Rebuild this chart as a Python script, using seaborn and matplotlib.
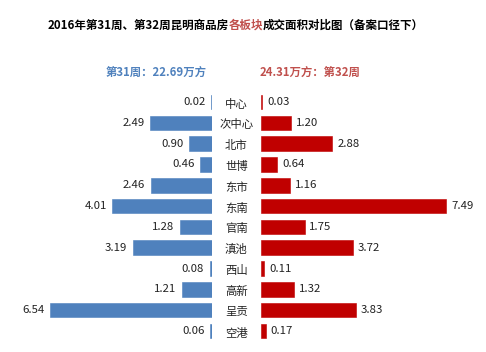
import matplotlib
matplotlib.use("Agg")
import matplotlib.pyplot as plt
import seaborn as sns
import pandas as pd

regions = ['中心', '次中心', '北市', '世博', '东市', '东南', '官南', '滇池', '西山', '高新', '呈贡', '空港']
week31 = [0.02, 2.49, 0.90, 0.46, 2.46, 4.01, 1.28, 3.19, 0.08, 1.21, 6.54, 0.06]
week32 = [0.03, 1.20, 2.88, 0.64, 1.16, 7.49, 1.75, 3.72, 0.11, 1.32, 3.83, 0.17]
title_left = '2016年第31周、第32周昆明商品房'
title_mid = '各板块'
title_right = '成交面积对比图（备案口径下）'
sub_left = '第31周：22.69万方'
sub_right = '24.31万方：第32周'

sns.set_theme(style='white')
plt.rcParams['font.family'] = ['Noto Sans CJK SC', 'DejaVu Sans']

BLUE = '#4F81BD'
RED = '#C00000'

df = pd.DataFrame({'region': regions, 'w31': week31, 'w32': week32})

W, H = 486, 352
fig = plt.figure(figsize=(W / 100, H / 100), dpi=100)
fig.patch.set_facecolor('white')

y_top = 91.6
y_bot = 341.4
bottom = 1 - y_bot / H
height = (y_bot - y_top) / H
scale = 24.71  # px per unit

axL = fig.add_axes([0, bottom, 211.5 / W, height])
axR = fig.add_axes([261.3 / W, bottom, (W - 261.3) / W, height])

sns.barplot(data=df, y='region', x='w31', orient='h', ax=axL, color=BLUE,
            width=0.7, saturation=1, edgecolor=BLUE, linewidth=0.4)
sns.barplot(data=df, y='region', x='w32', orient='h', ax=axR, color=RED,
            width=0.7, saturation=1, edgecolor=RED, linewidth=0.4)

axL.set_xlim(211.5 / scale, 0)
axR.set_xlim(0, (W - 261.3) / scale)
for ax in (axL, axR):
    ax.set_ylim(len(regions) - 0.5, -0.5)
    ax.axis('off')

for i, (a, b) in enumerate(zip(week31, week32)):
    axL.annotate(f'{a:.2f}', (a, i), xytext=(-4, 0), textcoords='offset points',
                 ha='right', va='center', fontsize=8.2, color='#222222')
    axR.annotate(f'{b:.2f}', (b, i), xytext=(3.5, 0), textcoords='offset points',
                 ha='left', va='center', fontsize=8.2, color='#222222')
    axR.annotate(regions[i], (0, i), xytext=(-18, -1.5), textcoords='offset points',
                 ha='center', va='center', fontsize=8.2, color='#222222',
                 annotation_clip=False)

ty = 1 - 25.5 / H
tfs = 8.3
mid = fig.text(245.5 / W, ty, title_mid, ha='center', va='center', fontsize=tfs,
               fontweight='bold', color='#C0504D')
fig.canvas.draw()
bb = mid.get_window_extent()
fig.text(bb.x0 / W, ty, title_left, ha='right', va='center', fontsize=tfs,
         fontweight='bold', color='black')
fig.text(bb.x1 / W, ty, title_right, ha='left', va='center', fontsize=tfs,
         fontweight='bold', color='black')

sy = 1 - 73 / H
fig.text(207 / W, sy, sub_left, ha='right', va='center', fontsize=8.2,
         fontweight='bold', color=BLUE)
fig.text(260 / W, sy, sub_right, ha='left', va='center', fontsize=8.2,
         fontweight='bold', color='#C0504D')

fig.savefig('out.png', dpi=100, facecolor='white')
